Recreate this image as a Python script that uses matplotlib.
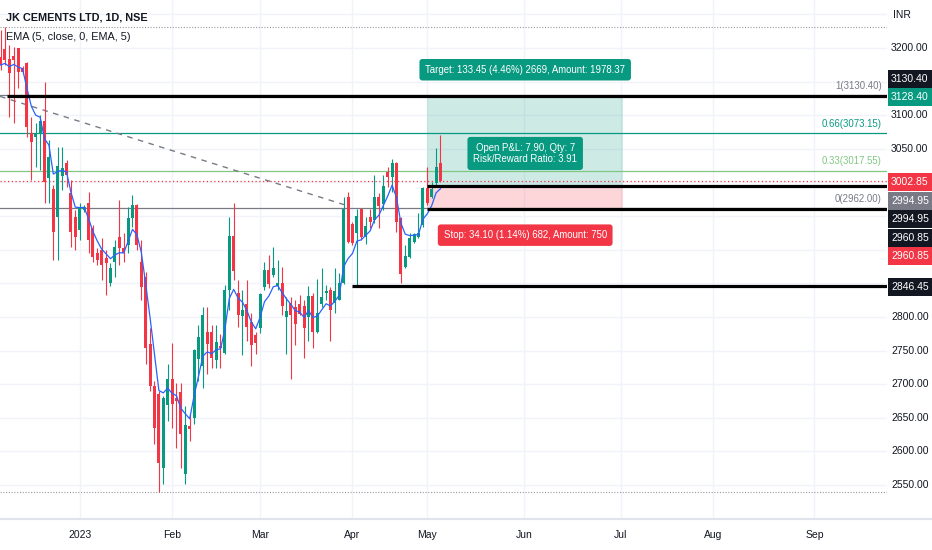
import matplotlib
matplotlib.use("Agg")
import matplotlib.pyplot as plt
import matplotlib.transforms as mtransforms
from matplotlib.patches import Rectangle
from matplotlib.lines import Line2D
import pandas as pd

plt.rcParams["font.family"] = ["Liberation Sans", "DejaVu Sans"]

# daily candles, 7 Dec 2022 .. 5 May 2023 (bar index 0..100)
opens = [3186.6, 3198.5, 3183.6, 3188.1, 3200.0, 3170.2, 3177.6, 3073.3, 3067.4, 3073.3,
         3091.2, 3006.3, 2989.9, 2948.2, 3009.3, 3028.6, 2983.9, 2948.2, 2928.8, 2958.6,
         2969.0, 2931.8, 2894.5, 2899.0, 2887.1, 2849.8, 2881.1, 2918.4, 2902.0, 2906.5,
         2946.7, 2966.1, 2881.1, 2858.8, 2760.4, 2697.9, 2685.9, 2575.7, 2669.5, 2708.3,
         2680.0, 2688.9, 2566.7, 2638.3, 2650.2, 2738.1, 2727.6, 2778.3, 2778.3, 2736.6,
         2757.4, 2747.0, 2839.4, 2919.9, 2834.9, 2800.7, 2818.5, 2791.7, 2772.4, 2782.8,
         2843.9, 2869.2, 2861.8, 2845.4, 2849.8, 2799.2, 2820.0, 2814.1, 2818.5, 2815.6,
         2799.2, 2830.5, 2778.3, 2818.5, 2834.9, 2839.4, 2820.0, 2824.5, 2849.8, 2978.0,
         2937.8, 2924.3, 2960.1, 2918.4, 2948.2, 2943.7, 2978.0, 2967.5, 3015.3, 3007.8,
         3028.6, 2946.7, 2873.7, 2888.6, 2910.9, 2918.4, 2936.3, 2991.4, 2978.0, 2998.8,
         3028.6]
highs = [3226.8, 3231.0, 3204.5, 3201.5, 3200.5, 3173.2, 3179.1, 3097.2, 3088.2, 3100.2,
         3149.3, 3062.9, 2995.9, 3052.5, 3052.5, 3033.1, 3003.3, 2958.6, 2969.0, 2966.1,
         2985.4, 2936.3, 2902.0, 2916.9, 2899.0, 2879.6, 2913.9, 2973.5, 2924.3, 2963.1,
         2981.0, 2968.0, 2913.9, 2866.2, 2782.8, 2705.3, 2690.4, 2683.0, 2730.6, 2761.9,
         2702.3, 2702.3, 2668.1, 2656.1, 2753.0, 2787.3, 2814.1, 2814.1, 2787.3, 2787.3,
         2775.3, 2846.9, 2948.2, 2969.0, 2854.3, 2839.4, 2854.3, 2805.1, 2777.0, 2834.9,
         2881.1, 2891.6, 2903.5, 2884.1, 2873.7, 2829.0, 2829.0, 2824.5, 2831.9, 2824.5,
         2845.4, 2834.9, 2855.8, 2872.2, 2846.9, 2843.9, 2872.2, 2864.7, 2978.0, 2985.4,
         2940.7, 2960.1, 2961.6, 2948.2, 2960.1, 3010.8, 2983.9, 3010.8, 3022.7, 3034.6,
         3030.0, 2948.0, 2906.5, 2924.3, 2924.3, 2954.1, 2993.0, 3022.7, 3000.3, 3051.0,
         3070.0]
lows = [3167.2, 3174.6, 3097.2, 3088.2, 3140.4, 3161.2, 3067.4, 3003.3, 3022.7, 3018.2,
        2969.0, 2969.0, 2884.1, 2884.1, 2988.4, 2992.9, 2903.5, 2899.0, 2913.9, 2955.6,
        2894.5, 2881.1, 2876.7, 2854.3, 2832.0, 2845.4, 2858.8, 2876.7, 2881.1, 2894.5,
        2933.3, 2899.0, 2824.5, 2730.6, 2690.4, 2611.4, 2540.0, 2551.8, 2645.7, 2635.3,
        2605.5, 2575.7, 2551.8, 2615.9, 2641.2, 2705.3, 2694.9, 2715.7, 2724.7, 2724.7,
        2724.7, 2745.5, 2809.6, 2854.3, 2784.3, 2744.0, 2764.9, 2727.6, 2745.5, 2776.8,
        2839.4, 2842.4, 2858.8, 2839.4, 2802.2, 2745.5, 2708.3, 2758.9, 2802.2, 2739.6,
        2764.9, 2754.5, 2776.8, 2814.1, 2824.5, 2764.9, 2805.1, 2824.5, 2849.0, 2909.4,
        2906.5, 2846.45, 2913.9, 2907.9, 2931.8, 2939.2, 2931.8, 2958.6, 2992.9, 2985.4,
        2925.8, 2849.8, 2872.2, 2887.1, 2909.4, 2918.0, 2933.3, 2966.1, 2977.0, 2995.9,
        3000.3]
closes = [3174.6, 3182.1, 3162.7, 3182.1, 3164.2, 3164.2, 3082.3, 3059.9, 3073.3, 3091.2,
          3000.3, 3037.6, 2925.8, 3024.2, 3021.2, 3010.8, 2925.8, 2918.4, 2961.6, 2963.1,
          2913.9, 2888.6, 2884.1, 2876.7, 2879.6, 2872.2, 2903.5, 2902.0, 2894.5, 2946.7,
          2966.1, 2906.5, 2843.9, 2754.5, 2697.9, 2635.3, 2583.1, 2680.0, 2708.3, 2671.0,
          2675.5, 2626.3, 2639.7, 2633.8, 2751.5, 2769.4, 2802.2, 2760.4, 2739.6, 2763.4,
          2754.5, 2839.4, 2919.9, 2867.7, 2802.2, 2809.6, 2784.3, 2758.9, 2761.9, 2833.4,
          2869.2, 2848.3, 2872.2, 2849.8, 2815.6, 2808.1, 2802.2, 2790.2, 2803.6, 2782.8,
          2830.5, 2778.3, 2805.1, 2829.0, 2837.9, 2809.6, 2837.9, 2849.8, 2960.1, 2910.9,
          2909.4, 2949.7, 2918.4, 2934.8, 2940.7, 2978.0, 2964.6, 2994.4, 3007.8, 3028.6,
          2940.7, 2863.2, 2890.1, 2916.9, 2922.8, 2924.3, 2991.4, 2969.0, 2989.9, 3022.7,
          3002.85]

month_pos = [18, 39, 59, 80, 97, 119, 141, 162, 185]
month_labels = ["2023", "Feb", "Mar", "Apr", "May", "Jun", "Jul", "Aug", "Sep"]

title = "JK CEMENTS LTD, 1D, NSE"
ema_label = "EMA (5, close, 0, EMA, 5)"

# long position tool
entry_price = 2994.95
target_price = 3128.40
stop_price = 2960.85
last_price = 3002.85
pos_start, pos_end = 97, 141.5
target_text = "Target: 133.45 (4.46%) 2669, Amount: 1978.37"
stop_text = "Stop: 34.10 (1.14%) 682, Amount: 750"
pnl_text = "Open P&L: 7.90, Qty: 7\nRisk/Reward Ratio: 3.91"

# drawn horizontal levels: (price, first bar)
black_levels = [(3128.40, 1.4), (2994.95, 97), (2960.85, 97), (2846.45, 80)]

# fib retracement
fib_low, fib_high = 2962.00, 3130.40
fib_ratios = [1, 0.66, 0.33, 0]
fib_colors = ["#787b86", "#089981", "#81c784", "#787b86"]
tick_size = 0.05

# dashed trend line
trend_x = [-0.1, 78.3]
trend_y = [3128.0, 2966.5]

# price scale tags
tag_prices = [3130.40, 3128.40, 3002.85, 2994.95, 2994.95, 2960.85, 2960.85, 2846.45]
tag_colors = ["#131722", "#089981", "#f23645", "#787b86", "#131722", "#131722", "#f23645", "#131722"]
tag_shift_px = [16, -1, -1.5, -15, -33, -29, -47, -1]

UP, DOWN = "#089981", "#f23645"
TXT = "#131722"
GRID = "#f0f3fa"
FS = 7.5
LFS = 6.9

W, H = 932, 550
fig = plt.figure(figsize=(W / 100, H / 100), dpi=100)
fig.patch.set_facecolor("white")
ax = fig.add_axes([0, 31 / H, 887 / W, 519 / H])
xmin, xmax = -0.114, 201.48
ax.set_xlim(xmin, xmax)
ax.set_ylim(2499.4, 3271.4)
for s in ax.spines.values():
    s.set_visible(False)

# grid
yt = list(range(2500, 3300, 50))
ax.set_yticks(yt)
ax.set_xticks(month_pos)
ax.set_xticklabels(month_labels, fontsize=FS, color=TXT)
ax.tick_params(axis="x", length=0, pad=8)
ax.grid(True, color=GRID, lw=1, zorder=0)
ax.set_axisbelow(True)

# position tool fills
ax.add_patch(Rectangle((pos_start, entry_price), pos_end - pos_start, target_price - entry_price,
                       fc=UP, alpha=0.2, lw=0, zorder=1))
ax.add_patch(Rectangle((pos_start, stop_price), pos_end - pos_start, entry_price - stop_price,
                       fc=DOWN, alpha=0.2, lw=0, zorder=1))

# fib lines + labels
blend = mtransforms.blended_transform_factory(ax.transAxes, ax.transData)
for r, c in zip(fib_ratios, fib_colors):
    lvl = round((fib_low + r * (fib_high - fib_low)) / tick_size) * tick_size
    ax.axhline(lvl, color=c, lw=0.9, zorder=2)
    ax.annotate(f"{r:g}({lvl:.2f})", xy=(0.994, lvl), xycoords=blend, xytext=(0, 3),
                textcoords="offset points", ha="right", va="bottom", fontsize=LFS, color=c)

# high / low lines
ax.axhline(max(highs), color="#9598a1", lw=0.8, ls=(0, (1, 1.5)), zorder=2)
ax.axhline(min(lows), color="#9598a1", lw=0.8, ls=(0, (1, 1.5)), zorder=2)

# trend line
ax.plot(trend_x, trend_y, color="#787b86", lw=1, ls=(0, (4, 4)), zorder=2)

# last price line
ax.axhline(last_price, color=DOWN, lw=0.9, ls=(0, (1, 2)), zorder=2)

# candles
x = list(range(len(closes)))
cols = [UP if c >= o else DOWN for o, c in zip(opens, closes)]
ax.vlines(x, lows, highs, colors=cols, lw=0.8, zorder=3)
bottoms = [min(o, c) for o, c in zip(opens, closes)]
heights = [max(abs(c - o), 1.2) for o, c in zip(opens, closes)]
ax.bar(x, heights, bottom=bottoms, width=0.72, color=cols, lw=0, zorder=4)

# EMA 5
ema = pd.Series(closes).ewm(span=5, adjust=False).mean()
ax.plot(x, ema, color="#2962ff", lw=0.9, zorder=5)

# black levels
for lvl, start in black_levels:
    ax.hlines(lvl, start, xmax, color="black", lw=2.3, zorder=6)

# position labels
mid = (pos_start + pos_end) / 2
box = dict(boxstyle="round,pad=0.6,rounding_size=0.3", ec="none")
ax.annotate(target_text, xy=(mid, target_price), xytext=(0, 19), textcoords="offset points",
            ha="center", va="center", fontsize=LFS, color="white", zorder=7,
            bbox=dict(box, fc=UP))
ax.annotate(stop_text, xy=(mid, stop_price), xytext=(0, -19), textcoords="offset points",
            ha="center", va="center", fontsize=LFS, color="white", zorder=7,
            bbox=dict(box, fc=DOWN))
ax.annotate(pnl_text, xy=(mid, last_price), xytext=(0, 19.5), textcoords="offset points",
            ha="center", va="center", fontsize=LFS, color="white", zorder=7, linespacing=1.2,
            bbox=dict(box, fc=UP))


def fig_y(price):
    return ax.transData.transform((0, price))[1] / fig.bbox.height


# price scale tags
tag_y = []
for p, c, sh in zip(tag_prices, tag_colors, tag_shift_px):
    yf = fig_y(p) + sh / H
    tag_y.append(yf)
    fig.add_artist(Rectangle((888 / W, yf - 9 / H), 44 / W, 18 / H, transform=fig.transFigure,
                             fc=c, ec="none"))
    fig.text(891 / W, yf, f"{p:.2f}", color="white", fontsize=FS, va="center", ha="left")

# price tick labels (skip those hidden by tags)
for v in yt:
    yf = fig_y(v)
    if yf > 1 - 26 / H or yf < 35 / H:
        continue
    if any(abs(yf - t) < 14 / H for t in tag_y):
        continue
    fig.text(891 / W, yf, f"{v:.2f}", color=TXT, fontsize=FS, va="center", ha="left")
ax.set_yticklabels([])
ax.tick_params(axis="y", length=0)

fig.text(893 / W, 1 - 15 / H, "INR", color=TXT, fontsize=FS, va="center", ha="left")

# header
fig.text(6 / W, 1 - 18 / H, title, color=TXT, fontsize=7.8, fontweight="bold", va="center")
fig.text(6 / W, 1 - 37 / H, ema_label, color=TXT, fontsize=7.8, va="center")

# bottom separator
fig.add_artist(Line2D([0, 1], [31 / H, 31 / H], transform=fig.transFigure, color="#e0e3eb", lw=1.5))

fig.savefig("out.png", dpi=100, facecolor="white")
